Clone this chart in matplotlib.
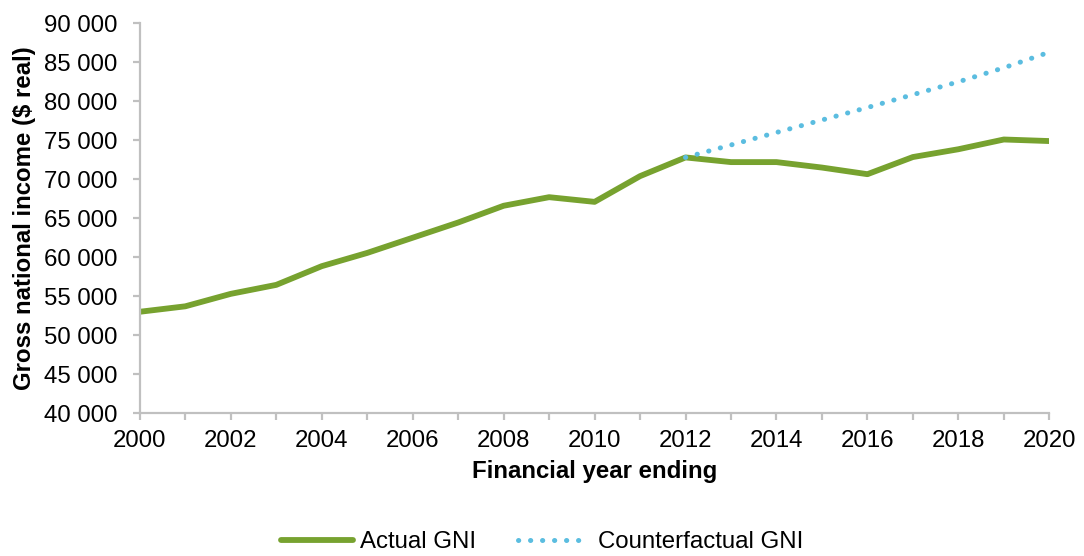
import matplotlib.pyplot as plt
from matplotlib.ticker import FuncFormatter, MultipleLocator

plt.rcParams['font.family'] = ['Liberation Sans', 'DejaVu Sans']

years = list(range(2000, 2021))
actual_gni = [53000, 53700, 55300, 56450, 58850, 60550, 62500, 64450, 66600, 67700, 67100,
              70400, 72800, 72200, 72200, 71500, 70650, 72850, 73850, 75100, 74900]
cf_years = list(range(2012, 2021))
counterfactual_gni = [72800, 74400, 76000, 77600, 79200, 80850, 82500, 84300, 86300]

fs = 17.3

fig = plt.figure(figsize=(10.84, 5.56), dpi=100)
ax = fig.add_axes([0.129, 0.257, 0.839, 0.701])

ax.plot(years, actual_gni, color='#77a22f', lw=4.2, solid_capstyle='butt', label='Actual GNI')
ax.plot(cf_years, counterfactual_gni, color='#5bbde0', lw=3.6, linestyle=(0, (0.05, 2.35)),
        dash_capstyle='round', label='Counterfactual GNI')

ax.set_xlim(2000, 2020)
ax.set_ylim(40000, 90000)
ax.xaxis.set_major_locator(MultipleLocator(2))
ax.xaxis.set_minor_locator(MultipleLocator(1))
ax.yaxis.set_major_locator(MultipleLocator(5000))
ax.yaxis.set_major_formatter(FuncFormatter(lambda v, p: f'{int(v):,}'.replace(',', ' ')))

for s in ['top', 'right']:
    ax.spines[s].set_visible(False)
for s in ['left', 'bottom']:
    ax.spines[s].set_color('#c0c0c0')
    ax.spines[s].set_linewidth(1.6)
ax.tick_params(axis='both', which='both', color='#c0c0c0', width=1.6, length=5, labelsize=fs)
ax.tick_params(axis='x', pad=7)
ax.tick_params(axis='y', pad=11)

ax.set_xlabel('Financial year ending', fontsize=fs, fontweight='bold', labelpad=6)
ax.set_ylabel('Gross national income ($ real)', fontsize=fs, fontweight='bold', labelpad=6)

h, l = ax.get_legend_handles_labels()
leg = fig.legend(h, l, loc='center', bbox_to_anchor=(0.5, 0.025), ncol=2, frameon=False,
                 fontsize=fs, handlelength=3.0, handletextpad=0.3, columnspacing=1.75,
                 borderpad=0)
leg.get_lines()[0].set_solid_capstyle('round')

fig.savefig('out.png', dpi=100)
